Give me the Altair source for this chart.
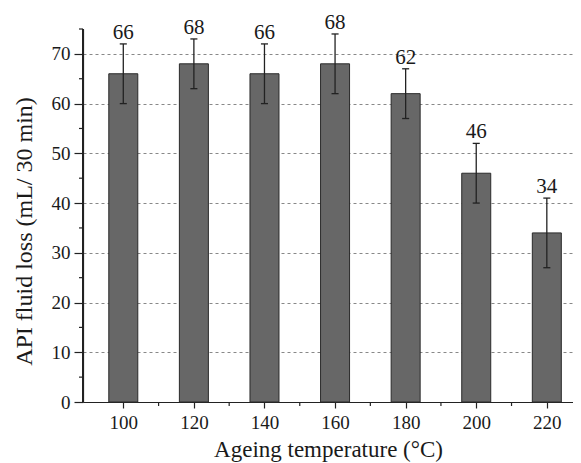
import altair as alt
import pandas as pd

temps = [100, 120, 140, 160, 180, 200, 220]
loss = [66, 68, 66, 68, 62, 46, 34]
err_lo = [60, 63, 60, 62, 57, 40, 27]
err_hi = [72, 73, 72, 74, 67, 52, 41]
y_major = [0, 10, 20, 30, 40, 50, 60, 70]
y_minor = [5, 15, 25, 35, 45, 55, 65, 75]
x_major = [100, 120, 140, 160, 180, 200, 220]
x_minor = [110, 130, 150, 170, 190, 210]

df = pd.DataFrame({"t": temps, "v": loss, "lo": err_lo, "hi": err_hi})
dfym = pd.DataFrame({"y": y_minor})
dfxm = pd.DataFrame({"x": x_minor})

FONT = "Liberation Serif"
TXT = "#1a1a1a"
xs = alt.Scale(domain=[90, 226], nice=False, zero=False)
ys = alt.Scale(domain=[0, 75], nice=False)

base = alt.Chart(df)

bars = base.mark_bar(size=29, color="#676767", stroke="#2a2a2a", strokeWidth=1).encode(
    x=alt.X("t:Q", scale=xs, title="Ageing temperature (°C)",
            axis=alt.Axis(values=x_major, tickSize=6, labelPadding=5, titlePadding=6,
                          grid=False, domainColor="#222", tickColor="#222",
                          labelFontSize=19, titleFontSize=23, labelColor=TXT,
                          titleColor=TXT, labelFont=FONT, titleFont=FONT,
                          titleFontWeight="normal", tickWidth=1.2, domainWidth=1.2)),
    y=alt.Y("v:Q", scale=ys, title="API fluid loss (mL/ 30 min)",
            axis=alt.Axis(values=y_major, tickSize=9, labelPadding=4,
                          titleX=-59, titleY=202, titleBaseline="middle", titleAlign="center",
                          titleAngle=-90,
                          grid=True, gridDash=[3, 3], gridColor="#888", gridWidth=1,
                          domainColor="#222", tickColor="#222",
                          labelFontSize=19, titleFontSize=24, labelColor=TXT,
                          titleColor=TXT, labelFont=FONT, titleFont=FONT,
                          titleFontWeight="normal", tickWidth=1.2, domainWidth=1.2)),
)

err = base.mark_rule(color="#222", strokeWidth=1.3).encode(
    x=alt.X("t:Q", scale=xs),
    y=alt.Y("lo:Q", scale=ys),
    y2="hi:Q",
)

caps_data = base.transform_calculate(a="datum.t - 1", b="datum.t + 1")
cap_hi = caps_data.mark_rule(color="#222", strokeWidth=1.3).encode(
    x=alt.X("a:Q", scale=xs), x2="b:Q",
    y=alt.Y("hi:Q", scale=ys),
)
cap_lo = caps_data.mark_rule(color="#222", strokeWidth=1.3).encode(
    x=alt.X("a:Q", scale=xs), x2="b:Q",
    y=alt.Y("lo:Q", scale=ys),
)

labels = base.mark_text(font=FONT, fontSize=21, color=TXT, baseline="alphabetic", dy=-5).encode(
    x=alt.X("t:Q", scale=xs),
    y=alt.Y("hi:Q", scale=ys),
    text="v:Q",
)

ymin = alt.Chart(dfym).mark_rule(color="#222", strokeWidth=1.2).encode(
    y=alt.Y("y:Q", scale=ys),
    x=alt.value(-4), x2=alt.value(0),
)
xmin = alt.Chart(dfxm).mark_rule(color="#222", strokeWidth=1.2).encode(
    x=alt.X("x:Q", scale=xs),
    y=alt.value(373), y2=alt.value(377),
)
# y axis line extends to the top of the domain (75)
ytop = alt.Chart(dfym).mark_rule(color="#222", strokeWidth=1.2).encode(
    x=alt.value(0), y=alt.value(0), y2=alt.value(373),
)

chart = alt.layer(bars, err, cap_hi, cap_lo, labels, ymin, xmin, ytop).properties(
    width=490, height=373,
    autosize=alt.AutoSizeParams(type="none"),
    padding={"left": 75, "top": 21, "right": 0, "bottom": 70},
).configure_view(stroke=None)

chart.save("out.html", embed_options={"renderer": "svg", "actions": False})
